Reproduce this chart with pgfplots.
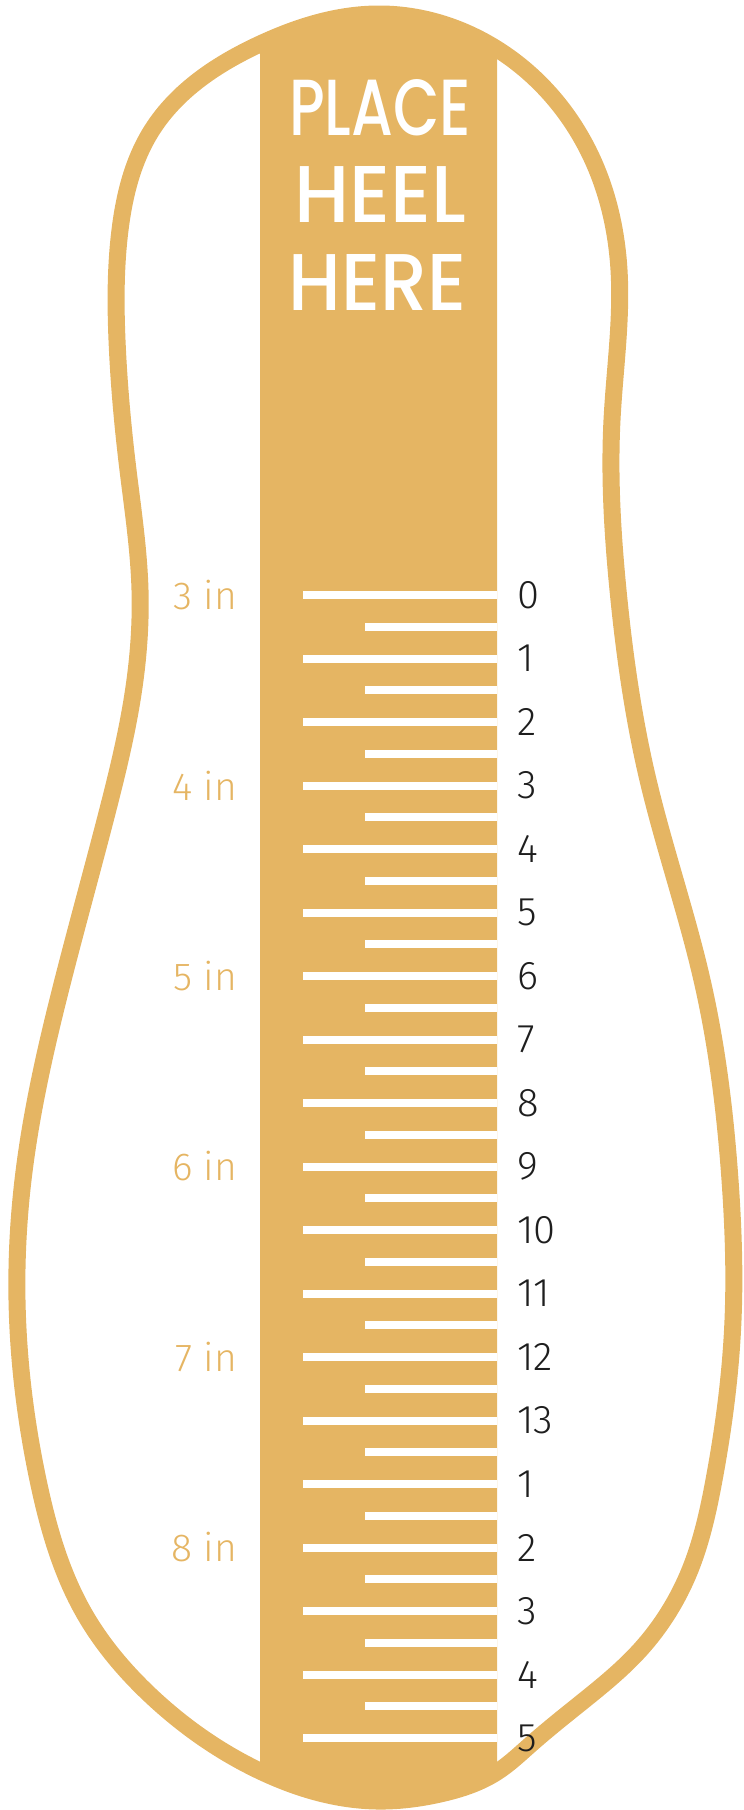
\documentclass[border=0pt]{standalone}
\usepackage{fontspec}
\usepackage{graphicx}
\usepackage{pgfplots}
\usetikzlibrary{hobby}
\pgfplotsset{compat=1.18}
\setmainfont{Liberation Sans}
\IfFontExistsTF{Fira Sans Book}{\newfontfamily\numfont{Fira Sans Book}}{%
  \IfFontExistsTF{Fira Sans Light}{\newfontfamily\numfont{Fira Sans Light}}{\newfontfamily\numfont{Liberation Sans}}}
\IfFontExistsTF{Poppins Medium}{\newfontfamily\handfont{Poppins Medium}}{\newfontfamily\handfont{Poppins}}
\definecolor{gold}{HTML}{E5B563}
\definecolor{ink}{HTML}{1E1E1E}
\begin{document}
\begin{tikzpicture}
\begin{axis}[
  scale only axis, width=744pt, height=1810pt,
  xmin=0, xmax=744, ymin=0, ymax=1810, y dir=reverse,
  hide axis, clip=false,
]
% page frame (invisible)
\addplot[draw=none, fill=none] coordinates {(0,0) (744,0) (744,1810) (0,1810) (0,0)};
% heel strip
\addplot[fill=gold, draw=none] coordinates {
 (260,48) (320,24) (377,16) (437,24) (497,52)
 (497,1773) (440,1793) (377,1799) (320,1793) (260,1770)};
% ruler ticks, long
\addplot[white, line width=8pt, unbounded coords=jump] coordinates {
 (303,595) (497,595) (nan,nan)
 (303,658.5) (497,658.5) (nan,nan)
 (303,722) (497,722) (nan,nan)
 (303,785.5) (497,785.5) (nan,nan)
 (303,849) (497,849) (nan,nan)
 (303,912.5) (497,912.5) (nan,nan)
 (303,976) (497,976) (nan,nan)
 (303,1039.5) (497,1039.5) (nan,nan)
 (303,1103) (497,1103) (nan,nan)
 (303,1166.5) (497,1166.5) (nan,nan)
 (303,1230) (497,1230) (nan,nan)
 (303,1293.5) (497,1293.5) (nan,nan)
 (303,1357) (497,1357) (nan,nan)
 (303,1420.5) (497,1420.5) (nan,nan)
 (303,1484) (497,1484) (nan,nan)
 (303,1547.5) (497,1547.5) (nan,nan)
 (303,1611) (497,1611) (nan,nan)
 (303,1674.5) (497,1674.5) (nan,nan)
 (303,1738) (497,1738)};
% ruler ticks, short
\addplot[white, line width=8pt, unbounded coords=jump] coordinates {
 (365,626.75) (497,626.75) (nan,nan)
 (365,690.25) (497,690.25) (nan,nan)
 (365,753.75) (497,753.75) (nan,nan)
 (365,817.25) (497,817.25) (nan,nan)
 (365,880.75) (497,880.75) (nan,nan)
 (365,944.25) (497,944.25) (nan,nan)
 (365,1007.75) (497,1007.75) (nan,nan)
 (365,1071.25) (497,1071.25) (nan,nan)
 (365,1134.75) (497,1134.75) (nan,nan)
 (365,1198.25) (497,1198.25) (nan,nan)
 (365,1261.75) (497,1261.75) (nan,nan)
 (365,1325.25) (497,1325.25) (nan,nan)
 (365,1388.75) (497,1388.75) (nan,nan)
 (365,1452.25) (497,1452.25) (nan,nan)
 (365,1515.75) (497,1515.75) (nan,nan)
 (365,1579.25) (497,1579.25) (nan,nan)
 (365,1642.75) (497,1642.75) (nan,nan)
 (365,1706.25) (497,1706.25)};
% foot outline
\addplot[gold, line width=17pt, closed hobby] coordinates {
 (377,14) (497,49) (588,150) (619,270) (612,420) (618,590)
 (648,780) (702,980) (730,1180) (733,1320) (714,1480) (690,1570)
 (640,1650) (582,1702) (530,1745) (497,1772) (440,1794) (377,1801)
 (262,1772) (150,1695) (84,1613)
 (38,1480) (17,1300) (23,1180) (63,980) (107,813) (135,680) (140,590)
 (128,470) (117,340) (120,230) (152,130) (260,44)};
% size numbers
\addplot[only marks, mark=none, nodes near coords, point meta=explicit symbolic,
  every node near coord/.style={anchor=west, inner sep=0pt, text=ink,
  font=\numfont\fontsize{40}{42}\selectfont}] coordinates {
 (517,595) [0] (517,658.5) [1] (517,722) [2] (517,785.5) [3]
 (517,849) [4] (517,912.5) [5] (517,976) [6] (517,1039.5) [7]
 (517,1103) [8] (517,1166.5) [9] (517,1230) [10] (517,1293.5) [11]
 (517,1357) [12] (517,1420.5) [13] (517,1484) [1] (517,1547.5) [2]
 (517,1611) [3] (517,1674.5) [4] (517,1738) [5]};
% inch labels
\addplot[only marks, mark=none, nodes near coords, point meta=explicit symbolic,
  every node near coord/.style={anchor=east, inner sep=0pt, text=gold,
  font=\numfont\fontsize{39}{41}\selectfont}] coordinates {
 (237,595) [3 in] (237,785.5) [4 in] (237,976) [5 in]
 (237,1166.5) [6 in] (237,1357) [7 in] (237,1547.5) [8 in]};
% heading
\node[text=white, inner sep=0pt, font=\handfont\fontsize{56}{56}\selectfont] at (axis cs:380,108) {\resizebox{182pt}{56pt}{PLACE}};
\node[text=white, inner sep=0pt, font=\handfont\fontsize{56}{56}\selectfont] at (axis cs:380,194) {\resizebox{172pt}{56pt}{HEEL}};
\node[text=white, inner sep=0pt, font=\handfont\fontsize{56}{56}\selectfont] at (axis cs:378,282) {\resizebox{178pt}{56pt}{HERE}};
\end{axis}
\end{tikzpicture}
\end{document}
